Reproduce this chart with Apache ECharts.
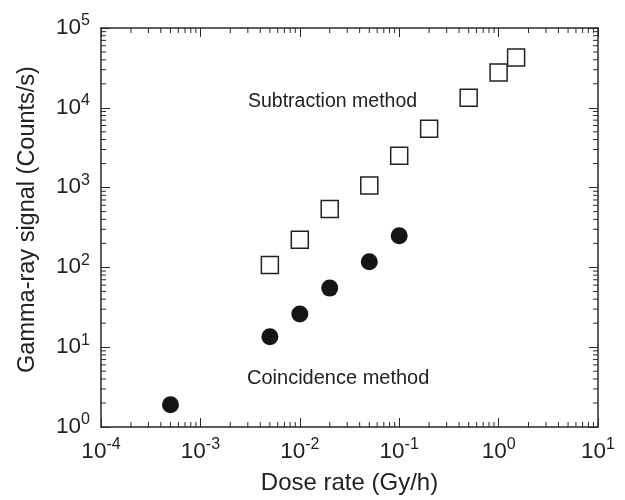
<!DOCTYPE html>
<html>
<head>
<meta charset="utf-8">
<script src="https://cdn.jsdelivr.net/npm/echarts@6/dist/echarts.min.js"></script>
<style>html,body{margin:0;padding:0;background:#fff}#c{width:625px;height:500px}</style>
</head>
<body>
<div id="c"></div>
<script>
// ---- data ----
const subDose   = [0.005, 0.01, 0.02, 0.05, 0.1, 0.2, 0.5, 1.0, 1.5];
const subSignal = [107, 222, 540, 1060, 2500, 5480, 13400, 27600, 42700];
const coinDose   = [0.0005, 0.005, 0.01, 0.02, 0.05, 0.1];
const coinSignal = [1.9, 13.5, 26, 55, 118, 250];
const xMin = 1e-4, xMax = 10, yMin = 1, yMax = 1e5;
const subLabel = 'Subtraction method';
const coinLabel = 'Coincidence method';
const xName = 'Dose rate (Gy/h)';
const yName = 'Gamma-ray signal (Counts/s)';

// minor tick values (2..9 x 10^n)
function minorVals(lo, hi) {
  const out = [];
  for (let e = Math.round(Math.log10(lo)); e < Math.round(Math.log10(hi)); e++) {
    for (let k = 2; k <= 9; k++) out.push(k * Math.pow(10, e));
  }
  return out;
}
const xMinor = minorVals(xMin, xMax);
const yMinor = minorVals(yMin, yMax);

const FONT = 'Liberation Sans, Arial, sans-serif';
const TXT = '#222';
const AX = '#2a2a2a';
function supFmt(v) {
  const e = Math.round(Math.log10(v));
  return '{b|10}{s|' + e + '}';
}
const rich = {
  b: {fontSize: 22.5, fontFamily: FONT, color: TXT, lineHeight: 26, verticalAlign: 'bottom'},
  s: {fontSize: 16, fontFamily: FONT, color: TXT, verticalAlign: 'top', lineHeight: 16}
};

const chart = echarts.init(document.getElementById('c'), null, {renderer: 'canvas'});
const MINOR = 5;

const baseAxis = {
  type: 'log', logBase: 10,
  axisLine: {show: true, onZero: false, lineStyle: {color: AX, width: 1.5}},
  axisTick: {show: true, inside: true, length: 9, lineStyle: {color: AX, width: 1}},
  splitLine: {show: false},
  minorTick: {show: false}
};

chart.setOption({
  animation: false,
  backgroundColor: '#fff',
  grid: {left: 101, right: 27, top: 28, bottom: 73, containLabel: false},
  xAxis: [
    Object.assign({}, baseAxis, {
      min: xMin, max: xMax, position: 'bottom',
      name: xName, nameLocation: 'middle', nameGap: 44,
      nameTextStyle: {fontSize: 24, fontFamily: FONT, color: TXT},
      axisLabel: {show: true, margin: 10, formatter: supFmt, rich: rich}
    }),
    Object.assign({}, baseAxis, {
      min: xMin, max: xMax, position: 'top',
      axisLabel: {show: false}
    })
  ],
  yAxis: [
    Object.assign({}, baseAxis, {
      min: yMin, max: yMax, position: 'left',
      name: yName, nameLocation: 'middle', nameGap: 61,
      nameTextStyle: {fontSize: 23.5, fontFamily: FONT, color: TXT, padding: [0, 0, 0, 16]},
      axisLabel: {show: true, margin: 11, formatter: supFmt, rich: rich, padding: [0, 0, 4, 0]}
    }),
    Object.assign({}, baseAxis, {
      min: yMin, max: yMax, position: 'right',
      axisLabel: {show: false}
    })
  ],
  graphic: [
    {type: 'text', left: 248, top: 92, style: {text: subLabel, font: '19.5px ' + FONT, fill: TXT}},
    {type: 'text', left: 247, top: 368, style: {text: coinLabel, font: '20px ' + FONT, fill: TXT}}
  ],
  series: [
    {
      type: 'custom', name: 'xminor', silent: true, clip: false,
      xAxisIndex: 0, yAxisIndex: 0,
      data: xMinor.map(v => [v, yMin]),
      renderItem: function (params, api) {
        const v = api.value(0);
        const b = api.coord([v, yMin]);
        const t = api.coord([v, yMax]);
        return {type: 'group', children: [
          {type: 'line', shape: {x1: b[0], y1: b[1], x2: b[0], y2: b[1] - MINOR}, style: {stroke: AX, lineWidth: 1}},
          {type: 'line', shape: {x1: t[0], y1: t[1], x2: t[0], y2: t[1] + MINOR}, style: {stroke: AX, lineWidth: 1}}
        ]};
      }
    },
    {
      type: 'custom', name: 'yminor', silent: true, clip: false,
      xAxisIndex: 0, yAxisIndex: 0,
      data: yMinor.map(v => [xMin, v]),
      renderItem: function (params, api) {
        const v = api.value(1);
        const l = api.coord([xMin, v]);
        const r = api.coord([xMax, v]);
        return {type: 'group', children: [
          {type: 'line', shape: {x1: l[0], y1: l[1], x2: l[0] + MINOR, y2: l[1]}, style: {stroke: AX, lineWidth: 1}},
          {type: 'line', shape: {x1: r[0], y1: r[1], x2: r[0] - MINOR, y2: r[1]}, style: {stroke: AX, lineWidth: 1}}
        ]};
      }
    },
    {
      type: 'scatter', name: subLabel, symbol: 'rect', symbolSize: 17,
      itemStyle: {color: '#fff', borderColor: '#222', borderWidth: 1.5, opacity: 1},
      data: subDose.map((d, i) => [d, subSignal[i]])
    },
    {
      type: 'scatter', name: coinLabel, symbol: 'circle', symbolSize: 17,
      itemStyle: {color: '#151515', opacity: 1},
      data: coinDose.map((d, i) => [d, coinSignal[i]])
    }
  ]
});
</script>
</body>
</html>
